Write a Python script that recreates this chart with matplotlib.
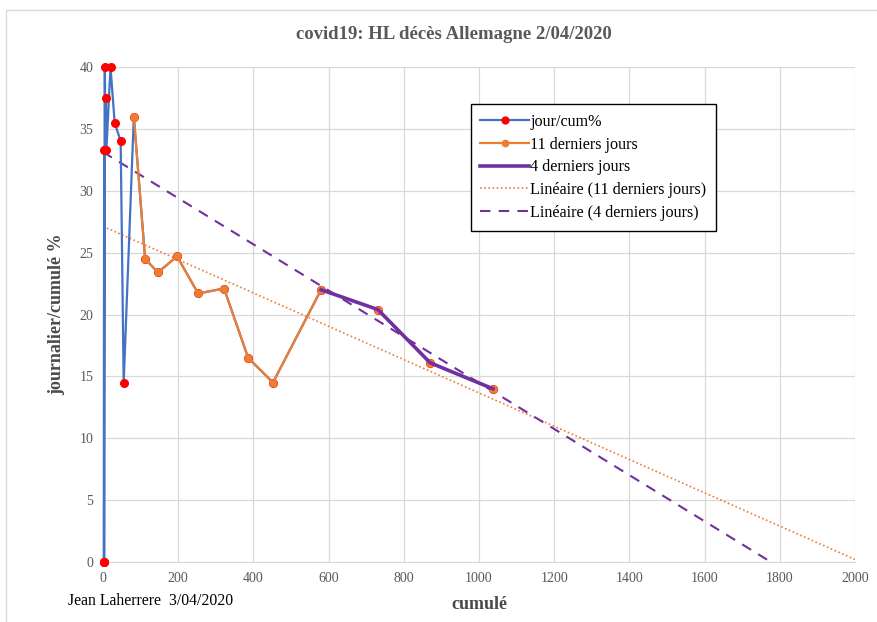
"""Recreate Laherrere's HL chart for covid19 deaths in Germany (2/04/2020)."""

import matplotlib

matplotlib.use("Agg")
import matplotlib.pyplot as plt
import numpy as np
from matplotlib.patches import Rectangle

plt.rcParams["font.family"] = ["Liberation Serif", "DejaVu Serif"]

# all days: cumulative deaths vs daily/cumulative %
cum_all = [2, 2, 3, 3, 5, 6, 8, 9, 20, 31, 47, 55,
           82, 112, 146, 197, 253, 322, 386, 452, 580, 731, 870, 1037]
pct_all = [0, 0, 33.3, 0, 40, 33.3, 37.5, 33.3, 40, 35.5, 34.0, 14.5,
           36.0, 24.5, 23.4, 24.7, 21.7, 22.1, 16.5, 14.5, 22.0, 20.4, 16.1, 14.0]

# the 11 last days (12 points) and the 4 last days
cum_11 = cum_all[-12:]
pct_11 = pct_all[-12:]
cum_4 = cum_all[-4:]
pct_4 = pct_all[-4:]

x_ticks = list(range(0, 2001, 200))
y_ticks = list(range(0, 41, 5))

GREY = "#595959"
DARK = "#4a4a4a"
BLUE = "#4472C4"
ORANGE = "#ED7D31"
PURPLE = "#7030A0"

fig = plt.figure(figsize=(8.78, 6.22), dpi=100)
ax = fig.add_axes([103 / 878, 60 / 622, 752 / 878, 495 / 622])

ax.plot(cum_all, pct_all, color=BLUE, lw=1.6, marker="o", ms=5.5,
        mfc="#FF0000", mec="#FF0000", label="jour/cum%", zorder=3,
        clip_on=False)
ax.plot(cum_11, pct_11, color=ORANGE, lw=1.6, marker="o", ms=5,
        mfc=ORANGE, mec=ORANGE, label="11 derniers jours", zorder=4,
        clip_on=False)
ax.plot(cum_4, pct_4, color=PURPLE, lw=2.6, label="4 derniers jours", zorder=5)

# Excel style linear trendlines, extended over the whole x range
xs = np.linspace(0, 2000, 200)
a11, b11 = np.polyfit(cum_11, pct_11, 1)
a4, b4 = np.polyfit(cum_4, pct_4, 1)
ax.plot(xs, a11 * xs + b11, color=ORANGE, lw=1.2, ls=(0, (1, 1.5)),
        label="Linéaire (11 derniers jours)", zorder=2)
ax.plot(xs, a4 * xs + b4, color=PURPLE, lw=1.5, ls=(0, (5, 4)),
        label="Linéaire (4 derniers jours)", zorder=2)

ax.set_xlim(0, 2000)
ax.set_ylim(0, 40)
ax.set_xticks(x_ticks)
ax.set_yticks(y_ticks)
ax.grid(True, color="#D9D9D9", lw=0.9)
ax.set_axisbelow(True)
for side in ["top", "right", "left"]:
    ax.spines[side].set_visible(False)
ax.spines["bottom"].set_color("#D9D9D9")
ax.tick_params(length=0, colors=GREY, labelsize=10, pad=7)

ax.set_title("covid19: HL décès Allemagne 2/04/2020", fontsize=13.5,
             fontweight="bold", color=GREY, pad=20, x=0.467)
ax.set_xlabel("cumulé", fontsize=13, fontweight="bold", color=DARK, labelpad=8)
ax.set_ylabel("journalier/cumulé %", fontsize=13, fontweight="bold", color=DARK,
              labelpad=10)

leg = ax.legend(loc="upper left", bbox_to_anchor=(0.489, 0.925), fontsize=11.6,
                frameon=True, fancybox=False, edgecolor="black", framealpha=1,
                handlelength=3.0, borderpad=0.6, labelspacing=0.42,
                handletextpad=0.1, borderaxespad=0, markerscale=0.9)
leg.get_frame().set_linewidth(1.0)

fig.text(68 / 878, 1 - 601 / 622, "Jean Laherrere  3/04/2020", fontsize=11.3,
         color="black", va="center", ha="left")

# thin grey frame of the chart area
fig.patches.append(Rectangle((6 / 878, -0.1), 1.2, 612 / 622 + 0.1,
                             transform=fig.transFigure, fill=False,
                             edgecolor="#D9D9D9", lw=1.0))

fig.savefig("out.png", dpi=100)
